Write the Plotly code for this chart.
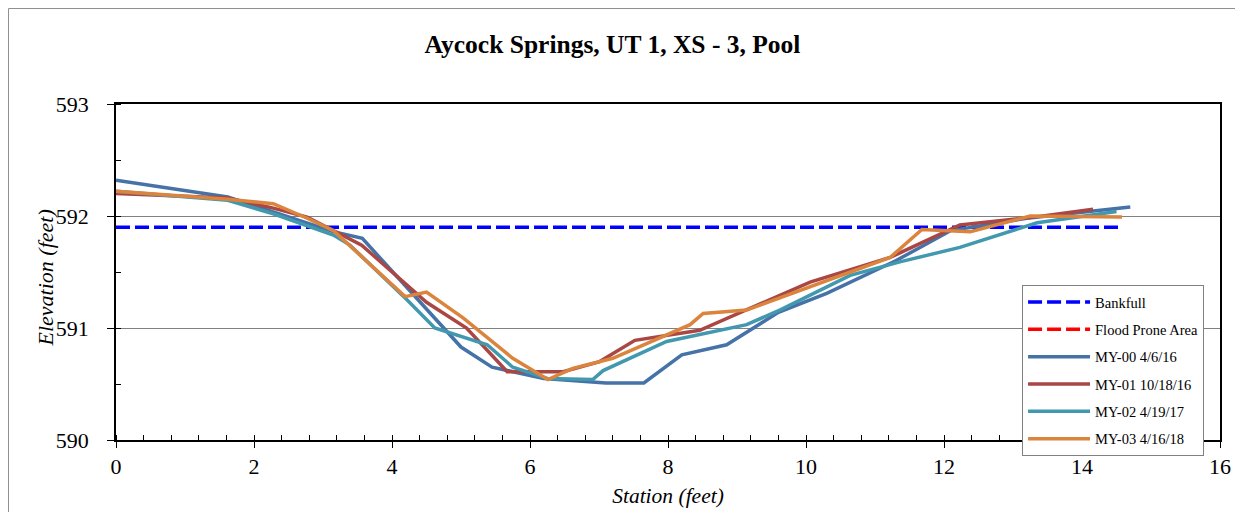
import plotly.graph_objects as go

# ---- data ----
bankfull_x = [0, 14.58]
bankfull_y = [591.90, 591.90]

flood_x = [None]
flood_y = [None]

my00_x = [0, 1.62, 3.15, 3.57, 5.0, 5.45, 6.2, 7.1, 7.65, 8.2, 8.85, 9.6, 10.3, 11.3, 12.1, 13.2, 14.7]
my00_y = [592.32, 592.17, 591.86, 591.80, 590.83, 590.65, 590.55, 590.51, 590.51, 590.76, 590.85, 591.14, 591.31, 591.60, 591.87, 591.98, 592.08]

my01_x = [0, 1.62, 2.28, 2.77, 3.15, 3.56, 4.5, 5.08, 5.67, 6.48, 7.01, 7.52, 8.46, 10.06, 11.22, 12.23, 13.3, 14.16]
my01_y = [592.20, 592.16, 592.07, 591.99, 591.87, 591.74, 591.23, 591.00, 590.61, 590.61, 590.70, 590.89, 590.98, 591.41, 591.63, 591.92, 591.99, 592.06]

my02_x = [0, 1.62, 2.28, 3.15, 3.39, 4.22, 4.62, 5.38, 5.75, 6.25, 6.91, 7.06, 7.98, 9.14, 9.62, 10.64, 11.36, 12.23, 13.35, 14.5]
my02_y = [592.22, 592.14, 592.02, 591.83, 591.74, 591.25, 591.00, 590.85, 590.65, 590.55, 590.54, 590.62, 590.88, 591.03, 591.16, 591.47, 591.59, 591.72, 591.94, 592.04]

my03_x = [0, 1.62, 2.28, 2.77, 3.15, 4.19, 4.5, 5.03, 5.75, 6.26, 6.62, 7.2, 8.32, 8.51, 9.14, 10.64, 11.22, 11.68, 12.38, 13.25, 14.58]
my03_y = [592.22, 592.15, 592.11, 591.98, 591.87, 591.28, 591.32, 591.09, 590.73, 590.54, 590.64, 590.73, 591.03, 591.13, 591.16, 591.50, 591.63, 591.88, 591.86, 592.00, 591.99]

names = ["Bankfull", "Flood Prone Area", "MY-00 4/6/16", "MY-01 10/18/16", "MY-02 4/19/17", "MY-03 4/16/18"]

FONT = "Liberation Serif"

# page body has an 8px margin; figure is sized/placed to compensate
W, H = 1235, 504
L, R, T, B = 108, 23, 96, 72
PW, PH = W - L - R, H - T - B

fig = go.Figure()
fig.add_trace(go.Scatter(x=bankfull_x, y=bankfull_y, mode="lines", name=names[0], legendgroup="a",
                         line=dict(color="#0000FF", width=3.5, dash="14px,5px")))
fig.add_trace(go.Scatter(x=flood_x, y=flood_y, mode="lines", name=names[1], legendgroup="b",
                         line=dict(color="#FF0000", width=3.5, dash="14px,5px")))
fig.add_trace(go.Scatter(x=my00_x, y=my00_y, mode="lines", name=names[2], legendgroup="c",
                         line=dict(color="#4572A7", width=3.5)))
fig.add_trace(go.Scatter(x=my01_x, y=my01_y, mode="lines", name=names[3], legendgroup="d",
                         line=dict(color="#AA4643", width=3.5)))
fig.add_trace(go.Scatter(x=my02_x, y=my02_y, mode="lines", name=names[4], legendgroup="e",
                         line=dict(color="#4198AF", width=3.5)))
fig.add_trace(go.Scatter(x=my03_x, y=my03_y, mode="lines", name=names[5], legendgroup="f",
                         line=dict(color="#DB843D", width=3.5)))

fig.update_layout(
    width=W, height=H,
    margin=dict(l=L, r=R, t=T, b=B, autoexpand=False),
    paper_bgcolor="white", plot_bgcolor="white",
    font=dict(family=FONT, color="black"),
    title=dict(text="<b>Aycock Springs, UT 1, XS - 3, Pool</b>", x=604.5 / W,
               xanchor="center", y=1 - 36 / H, yanchor="middle", font=dict(size=25.5, family=FONT)),
    showlegend=True,
    legend=dict(x=0.8207, y=0.4613, xanchor="left", yanchor="top",
                bgcolor="white", bordercolor="#808080", borderwidth=1,
                font=dict(size=14.5, family=FONT), tracegroupgap=5.5,
                itemwidth=62),
    xaxis=dict(range=[0, 16], dtick=2, tick0=0, showgrid=False, zeroline=False, automargin=False,
               showline=True, linecolor="black", linewidth=1.5, mirror=True,
               ticks="outside", ticklen=6, tickcolor="black", ticklabelstandoff=0,
               tickfont=dict(size=22, family=FONT),
               minor=dict(dtick=0.4, ticks="inside", ticklen=5, tickcolor="black", showgrid=False),
               title=dict(text="<i>Station (feet)</i>", font=dict(size=21.5, family=FONT), standoff=10)),
    yaxis=dict(range=[590, 593], dtick=1, showgrid=True, gridcolor="#808080", gridwidth=1,
               zeroline=False, showline=True, linecolor="black", linewidth=1.5, mirror=True, automargin=False,
               ticks="outside", ticklen=7, tickcolor="black", ticklabelstandoff=14,
               tickfont=dict(size=22, family=FONT),
               minor=dict(dtick=0.5, ticks="inside", ticklen=5, tickcolor="black", showgrid=False)),
    annotations=[dict(text="<i>Elevation (feet)</i>", xref="paper", yref="paper",
                      x=(37 - L) / PW, y=0.4807, xanchor="center", yanchor="middle",
                      textangle=-90, showarrow=False, font=dict(size=22, family=FONT))],
)

# outer chart frame (top and left edges)
fig.add_shape(type="line", xref="paper", yref="paper", x0=(0.5 - L) / PW, x1=1.2,
              y0=(H - B - 0.5) / PH, y1=(H - B - 0.5) / PH, line=dict(color="#909090", width=1))
fig.add_shape(type="line", xref="paper", yref="paper", x0=(0.5 - L) / PW, x1=(0.5 - L) / PW,
              y0=(H - B - 0.5) / PH, y1=-0.5, line=dict(color="#909090", width=1))

fig.write_html("out.html")
